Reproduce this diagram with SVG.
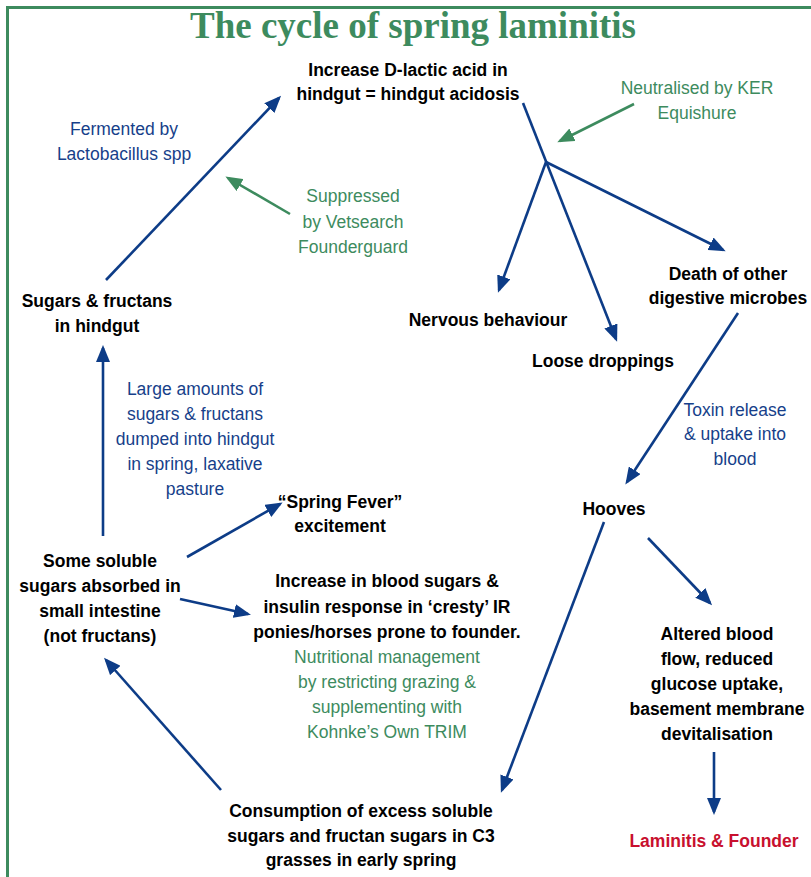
<svg xmlns="http://www.w3.org/2000/svg" width="811" height="877" viewBox="0 0 811 877">
<defs>
<style>
.b{font-family:"Liberation Sans",Arial,sans-serif;font-weight:bold;font-size:17.5px;fill:#000;text-anchor:middle}
.n{font-family:"Liberation Sans",Arial,sans-serif;font-size:17.5px;fill:#173f8a;text-anchor:middle}
.g{font-family:"Liberation Sans",Arial,sans-serif;font-size:17.5px;fill:#3d8b5e;text-anchor:middle}
.r{font-family:"Liberation Sans",Arial,sans-serif;font-weight:bold;font-size:17.5px;fill:#c8102e;text-anchor:middle}
.t{font-family:"Liberation Serif","Times New Roman",serif;font-weight:bold;font-size:37px;fill:#3d8b5e;text-anchor:middle}
.al{stroke:#0d3c87;stroke-width:2.6;fill:none}
.gl{stroke:#3d8b5e;stroke-width:2.6;fill:none}
</style>
<marker id="ab" markerUnits="userSpaceOnUse" markerWidth="17" markerHeight="14" viewBox="0 0 17 14" refX="14" refY="7" orient="auto">
<path d="M0,0 L17,7 L0,14 z" fill="#0d3c87"/>
</marker>
<marker id="ag" markerUnits="userSpaceOnUse" markerWidth="17" markerHeight="14" viewBox="0 0 17 14" refX="14" refY="7" orient="auto">
<path d="M0,0 L17,7 L0,14 z" fill="#3d8b5e"/>
</marker>
</defs>
<rect x="7.5" y="7.5" width="820" height="890" fill="#fff" stroke="#3d8b5e" stroke-width="3"/>
<text class="t" x="413" y="38">The cycle of spring laminitis</text>

<g id="connectors">
<line class="al" x1="523" y1="103" x2="616" y2="339" marker-end="url(#ab)"/>
<line class="al" x1="546" y1="162" x2="499" y2="290" marker-end="url(#ab)"/>
<line class="al" x1="546" y1="162" x2="723" y2="250" marker-end="url(#ab)"/>
<line class="al" x1="738" y1="313" x2="627" y2="482" marker-end="url(#ab)"/>
<line class="al" x1="648" y1="538" x2="710" y2="603" marker-end="url(#ab)"/>
<line class="al" x1="604" y1="522" x2="502" y2="790" marker-end="url(#ab)"/>
<line class="al" x1="714" y1="752" x2="714" y2="812" marker-end="url(#ab)"/>
<line class="al" x1="221" y1="790" x2="106" y2="660" marker-end="url(#ab)"/>
<line class="al" x1="180" y1="599" x2="248" y2="614" marker-end="url(#ab)"/>
<line class="al" x1="187" y1="557" x2="280" y2="504" marker-end="url(#ab)"/>
<line class="al" x1="103" y1="536" x2="103" y2="348" marker-end="url(#ab)"/>
<line class="al" x1="106" y1="280" x2="279" y2="98" marker-end="url(#ab)"/>
<line class="gl" x1="634" y1="104" x2="560" y2="141" marker-end="url(#ag)"/>
<line class="gl" x1="290" y1="214" x2="228" y2="178" marker-end="url(#ag)"/>
</g>

<g id="acidosis">
<text class="b" x="408" y="76">Increase D-lactic acid in</text>
<text class="b" x="408" y="100">hindgut = hindgut acidosis</text>
</g>
<g id="neutralised">
<text class="g" x="697" y="94">Neutralised by KER</text>
<text class="g" x="697" y="119">Equishure</text>
</g>
<g id="fermented">
<text class="n" x="124" y="135">Fermented by</text>
<text class="n" x="124" y="160">Lactobacillus spp</text>
</g>
<g id="suppressed">
<text class="g" x="353" y="202">Suppressed</text>
<text class="g" x="353" y="228">by Vetsearch</text>
<text class="g" x="353" y="253">Founderguard</text>
</g>
<g id="death">
<text class="b" x="728" y="280">Death of other</text>
<text class="b" x="728" y="304">digestive microbes</text>
</g>
<g id="nervous">
<text class="b" x="488" y="326">Nervous behaviour</text>
</g>
<g id="loose">
<text class="b" x="603" y="367">Loose droppings</text>
</g>
<g id="hindgut">
<text class="b" x="97" y="307">Sugars &amp; fructans</text>
<text class="b" x="97" y="332">in hindgut</text>
</g>
<g id="large">
<text class="n" x="195" y="395">Large amounts of</text>
<text class="n" x="195" y="420">sugars &amp; fructans</text>
<text class="n" x="195" y="445">dumped into hindgut</text>
<text class="n" x="195" y="470">in spring, laxative</text>
<text class="n" x="195" y="495">pasture</text>
</g>
<g id="toxin">
<text class="n" x="735" y="416">Toxin release</text>
<text class="n" x="735" y="440">&amp; uptake into</text>
<text class="n" x="735" y="465">blood</text>
</g>
<g id="fever">
<text class="b" x="340" y="508">“Spring Fever”</text>
<text class="b" x="340" y="532">excitement</text>
</g>
<g id="hooves">
<text class="b" x="614" y="515">Hooves</text>
</g>
<g id="soluble">
<text class="b" x="100" y="567">Some soluble</text>
<text class="b" x="100" y="592">sugars absorbed in</text>
<text class="b" x="100" y="617">small intestine</text>
<text class="b" x="100" y="642">(not fructans)</text>
</g>
<g id="blood">
<text class="b" x="387" y="587">Increase in blood sugars &amp;</text>
<text class="b" x="387" y="613">insulin response in ‘cresty’ IR</text>
<text class="b" x="387" y="638">ponies/horses prone to founder.</text>
</g>
<g id="nutrition">
<text class="g" x="387" y="663">Nutritional management</text>
<text class="g" x="387" y="688">by restricting grazing &amp;</text>
<text class="g" x="387" y="713">supplementing with</text>
<text class="g" x="387" y="738">Kohnke’s Own TRIM</text>
</g>
<g id="altered">
<text class="b" x="717" y="640">Altered blood</text>
<text class="b" x="717" y="665">flow, reduced</text>
<text class="b" x="717" y="690">glucose uptake,</text>
<text class="b" x="717" y="715">basement membrane</text>
<text class="b" x="717" y="740">devitalisation</text>
</g>
<g id="laminitis">
<text class="r" x="714" y="847">Laminitis &amp; Founder</text>
</g>
<g id="consumption">
<text class="b" x="361" y="817">Consumption of excess soluble</text>
<text class="b" x="361" y="842">sugars and fructan sugars in C3</text>
<text class="b" x="361" y="866">grasses in early spring</text>
</g>
</svg>
